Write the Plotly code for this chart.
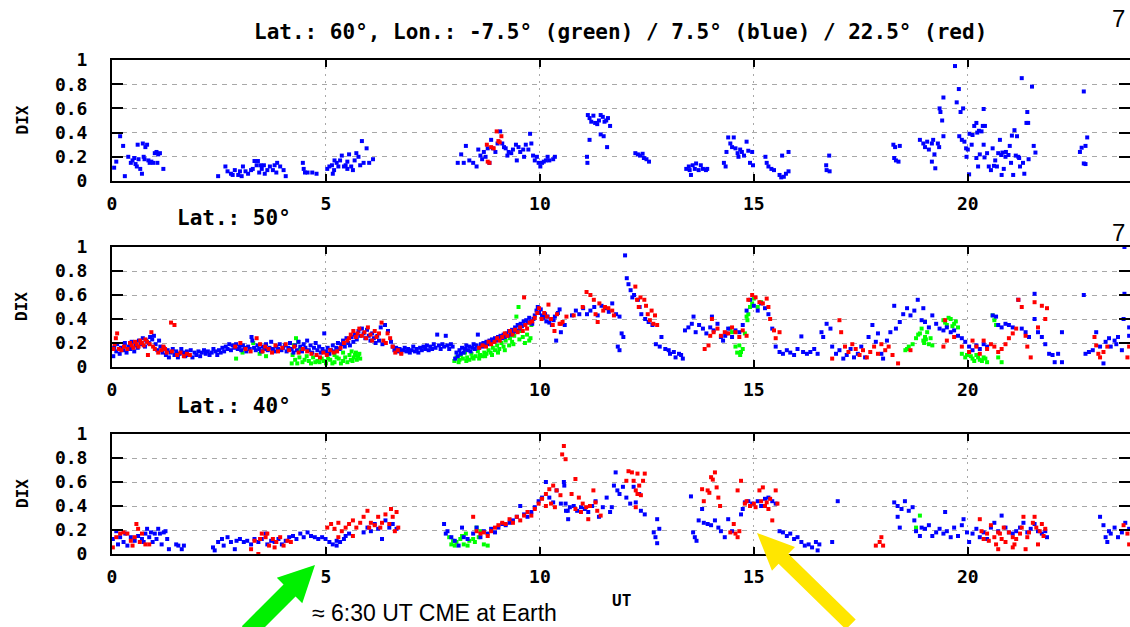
import math
import plotly.graph_objects as go

# ---------------- data (UT hours, DIX) ----------------
X_TICKS = [0, 5, 10, 15, 20]
X_TICK_TEXT = ["0", "5", "10", "15", "20"]
Y_TICKS = [0, 0.2, 0.4, 0.6, 0.8, 1]
Y_TICK_TEXT = ["0", "0.2", "0.4", "0.6", "0.8", "1"]

TITLE_TOP = "Lat.: 60°, Lon.: -7.5° (green) / 7.5° (blue) / 22.5° (red)"
PANEL_LABELS = ["Lat.: 50°", "Lat.: 40°"]
Y_TITLE = "DIX"
X_TITLE = "UT"
NOTE = "≈ 6:30 UT CME at Earth"

# ---- Lat 60 ----
P1_BLUE = [
    (0.05, 0.11), (0.10, 0.16), (0.19, 0.37), (0.26, 0.29), (0.30, 0.04), (0.38, 0.20), (0.44, 0.15),
    (0.48, 0.17), (0.52, 0.19), (0.55, 0.14), (0.58, 0.12), (0.62, 0.18), (0.66, 0.10), (0.70, 0.06),
    (0.60, 0.30), (0.72, 0.31), (0.78, 0.28), (0.82, 0.30), (0.85, 0.17), (0.88, 0.15), (0.92, 0.16),
    (0.96, 0.15), (1.00, 0.23), (1.04, 0.24), (1.08, 0.22), (1.12, 0.23), (1.06, 0.15), (1.20, 0.10),
    (0.74, 0.20), (0.76, 0.18),
    (2.48, 0.04), (2.65, 0.12), (2.70, 0.08), (2.78, 0.06), (2.87, 0.09), (2.95, 0.05), (2.99, 0.08),
    (3.06, 0.12), (3.12, 0.08), (3.18, 0.06), (3.25, 0.09), (3.33, 0.165), (3.38, 0.13), (3.44, 0.07),
    (3.50, 0.10), (3.57, 0.06), (3.63, 0.09), (3.69, 0.12), (3.76, 0.09), (3.80, 0.13), (3.86, 0.15),
    (3.93, 0.12), (4.01, 0.09), (4.06, 0.04), (3.47, 0.13), (3.29, 0.10), (2.82, 0.05), (3.03, 0.04),
    (3.55, 0.13), (3.84, 0.07), (3.41, 0.165),
    (4.46, 0.15), (4.51, 0.07), (4.57, 0.07), (4.68, 0.07), (4.78, 0.06), (4.48, 0.10), (5.03, 0.10),
    (5.08, 0.12), (5.14, 0.13), (5.19, 0.09), (5.25, 0.15), (5.29, 0.12), (5.33, 0.17), (5.37, 0.21),
    (5.42, 0.12), (5.46, 0.13), (5.50, 0.16), (5.54, 0.22), (5.59, 0.12), (5.63, 0.09), (5.67, 0.17),
    (5.71, 0.23), (5.76, 0.20), (5.80, 0.13), (5.84, 0.33), (5.88, 0.15), (5.95, 0.27), (6.01, 0.15),
    (6.10, 0.18), (5.20, 0.17), (5.50, 0.10), (5.16, 0.06),
    (8.08, 0.15), (8.16, 0.22), (8.27, 0.29), (8.22, 0.15), (8.35, 0.17), (8.44, 0.15), (8.52, 0.12),
    (8.56, 0.26), (8.61, 0.21), (8.65, 0.18), (8.69, 0.24), (8.73, 0.20), (8.78, 0.27), (8.86, 0.34),
    (8.90, 0.27), (8.96, 0.24), (9.01, 0.31), (9.07, 0.41), (9.12, 0.31), (9.16, 0.28), (9.20, 0.27),
    (9.27, 0.24), (9.33, 0.23), (9.37, 0.26), (9.44, 0.30), (9.50, 0.28), (9.54, 0.24), (9.61, 0.26),
    (9.67, 0.30), (9.73, 0.26), (9.77, 0.39), (9.80, 0.31), (9.84, 0.21), (9.88, 0.17), (9.93, 0.20),
    (9.97, 0.15), (10.01, 0.12), (10.05, 0.15), (10.09, 0.16), (10.14, 0.17), (10.18, 0.20),
    (10.22, 0.17), (10.31, 0.18), (10.35, 0.20), (9.63, 0.20), (9.46, 0.17), (9.24, 0.21), (8.82, 0.15),
    (11.12, 0.545), (11.16, 0.52), (11.20, 0.49), (11.25, 0.54), (11.29, 0.48), (11.34, 0.47),
    (11.38, 0.50), (11.42, 0.545), (11.47, 0.53), (11.51, 0.49), (11.55, 0.50), (11.64, 0.455),
    (11.59, 0.52), (11.16, 0.34), (11.42, 0.385), (11.49, 0.37), (11.57, 0.28), (11.10, 0.20),
    (11.11, 0.15),
    (12.23, 0.23), (12.29, 0.22), (12.34, 0.21), (12.40, 0.225), (12.43, 0.19), (12.49, 0.18),
    (12.55, 0.16),
    (13.42, 0.10), (13.48, 0.12), (13.53, 0.05), (13.57, 0.13), (13.62, 0.10), (13.65, 0.145),
    (13.71, 0.09), (13.76, 0.13), (13.81, 0.10), (13.88, 0.09), (13.91, 0.10), (13.50, 0.09),
    (14.30, 0.15), (14.34, 0.12), (14.36, 0.24), (14.40, 0.36), (14.45, 0.31), (14.49, 0.28),
    (14.53, 0.36), (14.57, 0.27), (14.62, 0.23), (14.64, 0.20), (14.68, 0.26), (14.72, 0.24),
    (14.77, 0.21), (14.83, 0.325), (14.87, 0.25), (14.91, 0.15), (14.96, 0.24), (14.98, 0.13),
    (15.27, 0.20), (15.30, 0.15), (15.34, 0.12), (15.41, 0.10), (15.47, 0.09), (15.60, 0.05),
    (15.64, 0.03), (15.70, 0.035), (15.75, 0.06), (15.81, 0.08), (15.66, 0.21), (15.81, 0.24),
    (16.69, 0.13), (16.70, 0.09), (16.77, 0.08), (16.76, 0.21),
    (18.26, 0.30), (18.30, 0.28), (18.41, 0.29), (18.28, 0.19), (18.32, 0.17), (18.38, 0.16),
    (18.88, 0.34), (18.96, 0.31), (19.00, 0.28), (19.05, 0.325), (19.09, 0.26), (19.16, 0.31),
    (19.19, 0.34), (19.22, 0.22), (19.16, 0.16), (19.24, 0.105), (19.30, 0.31), (19.33, 0.28),
    (19.34, 0.60), (19.36, 0.57), (19.40, 0.50), (19.43, 0.69), (19.43, 0.37), (19.70, 0.95),
    (19.79, 0.76), (19.74, 0.65), (19.83, 0.57), (19.89, 0.60), (19.80, 0.37), (19.86, 0.34),
    (19.92, 0.325), (19.96, 0.27), (20.00, 0.26), (19.97, 0.20), (20.03, 0.055), (20.04, 0.39),
    (20.09, 0.30), (20.11, 0.38), (20.15, 0.455), (20.20, 0.48), (20.22, 0.40), (20.26, 0.415),
    (20.28, 0.22), (20.32, 0.41), (20.35, 0.455), (20.37, 0.595), (20.37, 0.30), (20.39, 0.195),
    (20.40, 0.455), (20.20, 0.19), (20.24, 0.12), (20.45, 0.23), (20.49, 0.12), (20.54, 0.09),
    (20.58, 0.27), (20.61, 0.125), (20.64, 0.17), (20.68, 0.12), (20.71, 0.23), (20.75, 0.34),
    (20.78, 0.215), (20.79, 0.05), (20.81, 0.235), (20.84, 0.10), (20.88, 0.20), (20.89, 0.24),
    (20.95, 0.215), (20.98, 0.29), (21.01, 0.15), (21.03, 0.375), (21.06, 0.05), (21.09, 0.42),
    (21.12, 0.21), (21.15, 0.37), (21.18, 0.20), (21.20, 0.19), (21.22, 0.12), (21.26, 0.85),
    (21.29, 0.15), (21.32, 0.06), (21.37, 0.48), (21.41, 0.48), (21.39, 0.57), (21.42, 0.18),
    (21.50, 0.78), (21.54, 0.29), (21.58, 0.235),
    (22.62, 0.24), (22.66, 0.275), (22.75, 0.29), (22.79, 0.36), (22.71, 0.74), (22.71, 0.145),
    (22.75, 0.14),
]
P1_RED = [
    (8.76, 0.30), (8.78, 0.16), (8.86, 0.28), (8.92, 0.27), (8.99, 0.41), (9.03, 0.33), (9.10, 0.37),
    (8.82, 0.15), (9.06, 0.32),
]
P1_GREEN = []

# ---- Lat 50 ----
P2_BLUE = [
    (0.03, 0.09), (0.05, 0.16), (0.10, 0.13), (0.12, 0.19), (0.18, 0.11), (0.21, 0.16), (0.27, 0.14),
    (0.30, 0.20), (0.34, 0.12), (0.38, 0.17), (0.43, 0.15), (0.46, 0.21), (0.52, 0.13), (0.55, 0.18),
    (0.60, 0.16), (0.63, 0.22), (0.68, 0.19), (0.72, 0.24), (0.77, 0.17), (0.80, 0.22), (0.86, 0.20),
    (0.89, 0.25), (0.94, 0.23), (0.98, 0.26), (1.02, 0.19), (1.06, 0.14), (1.10, 0.22), (1.13, 0.17),
    (1.18, 0.12), (1.21, 0.16), (1.26, 0.10), (1.30, 0.14), (1.33, 0.08), (1.37, 0.12), (1.42, 0.15),
    (1.46, 0.10), (1.50, 0.13), (1.54, 0.08), (1.58, 0.11), (1.62, 0.15), (1.67, 0.12), (1.71, 0.09),
    (1.75, 0.13), (1.80, 0.10), (1.84, 0.14), (1.88, 0.08), (1.93, 0.12), (1.97, 0.10), (2.02, 0.13),
    (2.06, 0.09), (2.10, 0.12), (2.15, 0.14), (2.19, 0.11), (2.24, 0.13), (2.28, 0.10), (2.33, 0.12),
    (2.37, 0.15), (2.42, 0.13), (2.46, 0.10),
    (2.50, 0.14), (2.54, 0.12), (2.58, 0.16), (2.62, 0.13), (2.66, 0.17), (2.70, 0.15), (2.74, 0.19),
    (2.78, 0.14), (2.82, 0.18), (2.86, 0.16), (2.90, 0.19), (2.94, 0.15), (2.98, 0.17), (3.02, 0.14),
    (3.06, 0.18), (3.10, 0.16), (3.14, 0.13), (3.18, 0.17), (3.22, 0.15), (3.26, 0.25), (3.28, 0.22),
    (3.32, 0.16), (3.36, 0.14), (3.40, 0.18), (3.44, 0.15), (3.48, 0.13), (3.52, 0.17), (3.56, 0.15),
    (3.60, 0.19), (3.64, 0.14), (3.68, 0.16), (3.72, 0.21), (3.76, 0.15), (3.80, 0.13), (3.84, 0.17),
    (3.88, 0.15), (3.92, 0.19), (3.96, 0.14), (4.00, 0.16), (4.04, 0.18), (4.08, 0.13), (4.12, 0.16),
    (4.16, 0.20), (4.20, 0.15), (4.24, 0.12), (4.28, 0.18), (4.32, 0.14), (4.36, 0.21), (4.40, 0.17),
    (4.44, 0.13), (4.48, 0.19), (4.52, 0.16), (4.56, 0.22), (4.60, 0.14), (4.64, 0.18), (4.68, 0.12),
    (4.72, 0.16), (4.76, 0.20), (4.80, 0.14), (4.84, 0.17), (4.88, 0.12), (4.92, 0.15), (4.96, 0.28),
    (5.00, 0.13),
    (5.04, 0.16), (5.08, 0.11), (5.12, 0.14), (5.16, 0.18), (5.20, 0.13), (5.24, 0.16), (5.28, 0.20),
    (5.32, 0.15), (5.36, 0.19), (5.40, 0.22), (5.44, 0.17), (5.48, 0.24), (5.52, 0.20), (5.56, 0.18),
    (5.60, 0.25), (5.64, 0.21), (5.68, 0.27), (5.72, 0.23), (5.76, 0.30), (5.80, 0.26), (5.84, 0.32),
    (5.88, 0.28), (5.92, 0.24), (5.96, 0.31), (6.00, 0.26), (6.04, 0.22), (6.08, 0.28), (6.12, 0.24),
    (6.16, 0.20), (6.20, 0.26), (6.24, 0.22), (6.28, 0.33), (6.32, 0.19), (6.38, 0.35), (6.45, 0.30),
    (6.52, 0.21),
    (6.56, 0.17), (6.60, 0.14), (6.64, 0.16), (6.68, 0.13), (6.72, 0.15), (6.76, 0.12), (6.80, 0.14),
    (6.84, 0.16), (6.88, 0.13), (6.92, 0.15), (6.96, 0.12), (7.00, 0.14), (7.04, 0.17), (7.08, 0.13),
    (7.12, 0.15), (7.16, 0.12), (7.20, 0.16), (7.24, 0.14), (7.28, 0.17), (7.32, 0.15), (7.36, 0.18),
    (7.40, 0.14), (7.44, 0.17), (7.48, 0.15), (7.52, 0.19), (7.56, 0.16), (7.60, 0.27), (7.64, 0.18),
    (7.68, 0.15), (7.72, 0.19), (7.76, 0.17), (7.80, 0.26), (7.84, 0.18), (7.88, 0.15), (7.92, 0.19),
    (7.96, 0.17),
    (8.02, 0.07), (8.05, 0.12), (8.08, 0.09), (8.12, 0.14), (8.15, 0.11), (8.18, 0.16), (8.22, 0.12),
    (8.25, 0.15), (8.28, 0.18), (8.32, 0.14), (8.35, 0.17), (8.38, 0.13), (8.42, 0.16), (8.45, 0.19),
    (8.48, 0.15), (8.52, 0.18), (8.55, 0.27), (8.58, 0.16), (8.62, 0.19), (8.65, 0.17), (8.68, 0.20),
    (8.72, 0.18), (8.75, 0.21), (8.78, 0.19), (8.82, 0.22), (8.85, 0.20), (8.88, 0.23), (8.92, 0.21),
    (8.95, 0.24), (8.98, 0.22), (9.02, 0.25), (9.05, 0.23), (9.08, 0.26), (9.12, 0.24), (9.15, 0.27),
    (9.18, 0.25), (9.22, 0.28), (9.25, 0.26), (9.28, 0.30), (9.32, 0.27), (9.35, 0.31), (9.38, 0.29),
    (9.42, 0.33), (9.45, 0.30), (9.48, 0.35), (9.52, 0.32), (9.55, 0.36), (9.58, 0.34), (9.62, 0.38),
    (9.65, 0.35), (9.68, 0.39), (9.72, 0.37), (9.75, 0.41), (9.78, 0.38), (9.82, 0.36), (9.85, 0.40),
    (9.88, 0.43), (9.92, 0.47), (9.95, 0.50), (9.98, 0.45), (10.02, 0.48), (10.05, 0.43),
    (10.08, 0.41), (10.12, 0.44), (10.15, 0.38), (10.18, 0.42), (10.22, 0.37), (10.25, 0.40),
    (10.28, 0.35), (10.32, 0.39), (10.35, 0.42), (10.38, 0.22), (10.42, 0.45), (10.46, 0.48),
    (10.49, 0.29), (10.58, 0.35), (10.75, 0.43), (10.84, 0.47), (10.92, 0.44), (11.01, 0.49),
    (11.10, 0.44), (11.18, 0.47), (11.27, 0.50), (11.35, 0.43), (11.44, 0.51), (11.52, 0.49),
    (11.61, 0.46), (11.69, 0.53), (11.78, 0.44), (11.86, 0.42), (11.91, 0.28), (11.95, 0.25),
    (11.82, 0.17), (11.86, 0.14), (11.99, 0.93), (12.03, 0.74), (12.07, 0.69), (12.12, 0.64),
    (12.16, 0.58), (12.20, 0.60), (12.29, 0.56), (12.33, 0.50), (12.37, 0.44), (12.46, 0.40),
    (12.54, 0.375), (12.63, 0.35), (12.71, 0.19), (12.80, 0.17), (12.84, 0.25), (12.93, 0.15),
    (13.01, 0.14), (13.04, 0.11), (13.13, 0.125), (13.17, 0.08), (13.25, 0.11), (13.30, 0.10),
    (13.34, 0.07), (13.39, 0.305), (13.47, 0.33), (13.55, 0.36), (13.59, 0.42), (13.64, 0.29),
    (13.72, 0.35), (13.81, 0.32), (13.89, 0.28), (13.98, 0.33), (14.02, 0.42), (14.06, 0.305),
    (14.15, 0.36), (14.23, 0.25), (14.28, 0.22), (14.33, 0.26), (14.36, 0.28), (14.40, 0.32),
    (14.49, 0.25), (14.57, 0.305), (14.66, 0.29), (14.74, 0.35), (14.83, 0.47), (14.91, 0.56),
    (15.00, 0.51), (15.09, 0.47), (15.17, 0.53), (15.26, 0.49), (15.34, 0.44), (15.43, 0.32),
    (15.51, 0.17), (15.60, 0.125), (15.68, 0.11), (15.77, 0.14), (15.85, 0.12), (15.94, 0.10),
    (16.02, 0.15), (16.11, 0.255), (16.15, 0.125), (16.24, 0.11), (16.32, 0.125), (16.41, 0.15),
    (16.49, 0.11), (16.58, 0.29), (16.62, 0.25), (16.70, 0.36), (16.79, 0.32), (16.83, 0.17),
    (16.92, 0.11), (17.00, 0.14), (17.09, 0.07), (17.17, 0.10), (17.26, 0.15), (17.34, 0.08),
    (17.43, 0.11), (17.51, 0.17), (17.60, 0.08), (17.68, 0.25), (17.77, 0.35), (17.85, 0.21),
    (17.90, 0.28), (17.98, 0.11), (18.02, 0.07), (18.11, 0.22), (18.19, 0.29), (18.28, 0.51),
    (18.32, 0.32), (18.41, 0.375), (18.49, 0.44), (18.58, 0.49), (18.66, 0.43), (18.75, 0.47),
    (18.83, 0.56), (18.92, 0.39), (18.96, 0.49), (19.00, 0.375), (19.09, 0.33), (19.17, 0.43),
    (19.26, 0.36), (19.34, 0.32), (19.43, 0.305), (19.51, 0.33), (19.60, 0.29), (19.68, 0.305),
    (19.77, 0.26), (19.86, 0.24), (19.94, 0.21), (20.03, 0.17), (20.11, 0.14), (20.20, 0.18),
    (20.28, 0.15), (20.37, 0.19), (20.45, 0.17), (20.58, 0.43), (20.66, 0.42), (20.71, 0.35),
    (20.79, 0.33), (20.88, 0.36), (20.96, 0.35), (21.05, 0.33), (21.18, 0.56), (21.26, 0.32),
    (21.35, 0.29), (21.43, 0.25), (21.56, 0.61), (21.56, 0.40), (21.64, 0.29), (21.73, 0.25),
    (21.81, 0.19), (21.90, 0.11), (21.98, 0.10), (22.03, 0.04), (22.11, 0.11), (22.20, 0.04),
    (22.20, 0.29), (22.71, 0.60), (22.75, 0.11), (22.83, 0.125), (22.92, 0.14), (23.00, 0.29),
    (23.09, 0.17), (23.17, 0.03), (23.22, 0.21), (23.30, 0.24), (23.34, 0.17), (23.43, 0.22),
    (23.47, 0.19), (23.51, 0.25), (23.60, 0.14), (23.64, 0.40), (23.66, 1.0), (23.66, 0.61),
    (23.77, 0.33), (23.77, 0.26),
]
P2_RED = [
    (0.03, 0.15), (0.06, 0.19), (0.09, 0.24), (0.12, 0.28), (0.16, 0.15), (0.22, 0.14), (0.28, 0.17),
    (0.36, 0.15), (0.42, 0.20), (0.46, 0.18), (0.50, 0.16), (0.54, 0.21), (0.58, 0.19), (0.62, 0.17),
    (0.66, 0.22), (0.70, 0.20), (0.74, 0.18), (0.78, 0.23), (0.82, 0.21), (0.84, 0.10), (0.88, 0.19),
    (0.92, 0.29), (0.96, 0.17), (1.00, 0.15), (1.08, 0.12), (1.15, 0.14), (1.20, 0.17), (1.24, 0.15),
    (1.28, 0.12), (1.38, 0.37), (1.46, 0.35), (1.40, 0.13), (1.52, 0.10), (1.60, 0.12), (1.68, 0.09),
    (1.75, 0.11), (1.82, 0.10),
    (2.88, 0.17), (3.00, 0.20), (3.12, 0.15), (3.24, 0.13), (3.38, 0.24), (3.46, 0.19), (3.52, 0.13),
    (3.58, 0.17), (3.66, 0.15), (3.74, 0.12), (3.82, 0.18), (3.88, 0.13), (3.98, 0.16), (4.06, 0.19),
    (4.14, 0.14), (4.26, 0.17), (4.36, 0.12), (4.46, 0.15), (4.56, 0.13), (4.66, 0.11),
    (4.78, 0.10), (4.86, 0.08), (4.94, 0.12), (5.02, 0.10), (5.10, 0.14), (5.18, 0.12), (5.26, 0.13),
    (5.34, 0.16), (5.42, 0.20), (5.50, 0.22), (5.54, 0.24), (5.58, 0.27), (5.64, 0.30), (5.70, 0.25),
    (5.74, 0.28), (5.78, 0.32), (5.84, 0.26), (5.90, 0.29), (5.94, 0.24), (5.98, 0.33), (6.04, 0.27),
    (6.08, 0.22), (6.14, 0.30), (6.18, 0.25), (6.24, 0.28), (6.30, 0.37), (6.34, 0.22), (6.40, 0.20),
    (6.44, 0.28), (6.50, 0.24), (6.56, 0.17), (6.62, 0.12), (6.68, 0.14), (6.76, 0.11),
    (8.58, 0.16), (8.66, 0.18), (8.74, 0.17), (8.80, 0.21), (8.86, 0.19), (8.94, 0.21), (9.00, 0.24),
    (9.06, 0.22), (9.12, 0.25), (9.18, 0.28), (9.24, 0.26), (9.30, 0.30), (9.36, 0.27), (9.42, 0.31),
    (9.48, 0.29), (9.54, 0.33), (9.63, 0.58), (9.60, 0.30), (9.66, 0.35), (9.70, 0.32), (9.76, 0.37),
    (9.82, 0.38), (9.88, 0.41), (9.94, 0.45), (9.98, 0.49), (10.04, 0.40), (10.10, 0.45),
    (10.16, 0.42), (10.20, 0.52), (10.26, 0.40), (10.30, 0.35), (10.34, 0.30), (10.40, 0.44),
    (10.46, 0.36),
    (10.49, 0.36), (10.53, 0.375), (10.62, 0.42), (10.79, 0.43), (11.00, 0.50), (11.09, 0.625),
    (11.18, 0.60), (11.26, 0.56), (11.30, 0.44), (11.35, 0.375), (11.39, 0.53), (11.48, 0.47),
    (11.52, 0.50), (11.60, 0.49), (11.69, 0.47), (11.73, 0.43), (12.23, 0.67), (12.27, 0.56),
    (12.31, 0.50), (12.35, 0.58), (12.44, 0.56), (12.48, 0.51), (12.52, 0.44), (12.57, 0.39),
    (12.61, 0.47), (12.65, 0.36), (12.69, 0.43), (12.74, 0.35), (13.85, 0.15), (13.94, 0.18),
    (13.98, 0.26), (14.02, 0.40), (14.06, 0.29), (14.15, 0.32), (14.23, 0.26), (14.32, 0.29),
    (14.40, 0.28), (14.49, 0.33), (14.57, 0.29), (14.66, 0.25), (14.74, 0.305), (14.83, 0.26),
    (14.87, 0.56), (14.96, 0.60), (15.04, 0.58), (15.13, 0.54), (15.21, 0.53), (15.30, 0.57),
    (15.34, 0.50), (15.38, 0.40), (15.47, 0.305), (15.51, 0.24), (15.60, 0.29), (16.83, 0.07),
    (17.00, 0.39), (17.04, 0.29), (17.13, 0.17), (17.21, 0.125), (17.30, 0.19), (17.38, 0.15),
    (17.47, 0.10), (17.55, 0.14), (17.64, 0.08), (17.72, 0.125), (17.81, 0.17), (17.90, 0.11),
    (17.98, 0.19), (18.07, 0.14), (18.15, 0.17), (18.24, 0.10), (18.37, 0.03), (18.66, 0.14),
    (19.43, 0.17), (19.47, 0.39), (19.51, 0.22), (19.68, 0.25), (19.86, 0.17), (20.03, 0.125),
    (20.11, 0.22), (20.20, 0.17), (20.28, 0.11), (20.37, 0.22), (20.45, 0.15), (20.54, 0.19),
    (20.62, 0.17), (20.71, 0.125), (20.79, 0.15), (20.88, 0.19), (20.96, 0.24), (21.05, 0.28),
    (21.13, 0.32), (21.18, 0.56), (21.26, 0.50), (21.35, 0.26), (21.39, 0.17), (21.47, 0.08),
    (21.56, 0.54), (21.64, 0.33), (21.73, 0.51), (21.81, 0.40), (21.85, 0.49), (22.96, 0.25),
    (23.00, 0.18), (23.05, 0.11), (23.09, 0.08), (23.17, 0.125), (23.26, 0.17), (23.73, 0.08),
    (23.77, 0.17),
]
P2_GREEN = [
    (2.90, 0.07), (3.05, 0.12), (3.30, 0.20), (3.45, 0.11), (3.60, 0.09), (3.50, 0.13),
    (4.20, 0.03), (4.25, 0.18), (4.30, 0.24), (4.35, 0.21), (4.40, 0.15), (4.50, 0.06), (4.60, 0.05),
    (4.70, 0.08), (4.80, 0.05), (4.90, 0.07), (4.28, 0.06), (4.45, 0.04), (4.65, 0.03), (4.85, 0.04),
    (4.22, 0.10), (4.33, 0.03), (4.38, 0.08), (4.55, 0.09), (4.75, 0.04), (4.95, 0.05),
    (5.00, 0.03), (5.10, 0.06), (5.20, 0.04), (5.30, 0.07), (5.40, 0.05), (5.50, 0.04), (5.55, 0.10),
    (5.60, 0.13), (5.65, 0.08), (5.70, 0.12), (5.75, 0.09), (5.80, 0.07), (5.20, 0.10), (5.40, 0.12),
    (5.62, 0.05), (5.72, 0.06), (5.05, 0.07), (5.15, 0.03), (5.25, 0.08), (5.35, 0.03), (5.45, 0.08),
    (5.58, 0.06), (5.68, 0.10), (5.78, 0.11),
    (8.00, 0.05), (8.05, 0.08), (8.10, 0.04), (8.15, 0.10), (8.20, 0.07), (8.25, 0.12), (8.30, 0.08),
    (8.35, 0.06), (8.40, 0.11), (8.50, 0.09), (8.55, 0.13), (8.60, 0.10), (8.70, 0.12), (8.80, 0.14),
    (8.90, 0.16), (9.00, 0.18), (9.10, 0.20), (9.15, 0.17), (9.20, 0.22), (9.30, 0.24), (9.35, 0.21),
    (9.40, 0.26), (9.45, 0.42), (9.50, 0.50), (9.55, 0.30), (9.60, 0.25), (9.70, 0.27), (9.75, 0.22),
    (9.80, 0.35), (8.45, 0.07), (8.65, 0.09), (8.75, 0.11), (8.85, 0.12), (8.95, 0.14), (9.05, 0.15),
    (8.12, 0.06), (8.28, 0.05), (8.42, 0.08), (8.58, 0.07), (8.72, 0.09), (8.88, 0.10), (9.02, 0.12),
    (9.18, 0.14), (9.28, 0.18), (9.38, 0.19), (9.52, 0.23), (9.65, 0.20), (9.78, 0.24),
    (14.45, 0.32), (14.49, 0.29), (14.57, 0.17), (14.66, 0.18), (14.70, 0.125),
    (14.74, 0.15), (14.79, 0.28), (14.83, 0.42), (14.87, 0.44), (14.91, 0.50), (14.96, 0.53),
    (15.00, 0.57), (15.09, 0.50), (15.17, 0.54), (14.61, 0.12), (14.68, 0.10), (14.85, 0.39),
    (18.54, 0.14), (18.62, 0.17), (18.71, 0.19), (18.79, 0.24), (18.88, 0.28), (18.92, 0.32),
    (18.96, 0.22), (19.00, 0.25), (19.05, 0.29), (19.09, 0.19), (19.13, 0.24), (19.17, 0.18),
    (18.58, 0.15), (18.84, 0.27), (18.98, 0.20), (19.02, 0.23),
    (19.43, 0.39), (19.51, 0.35), (19.60, 0.40), (19.68, 0.36), (19.77, 0.33), (19.86, 0.11),
    (19.47, 0.37), (19.55, 0.41), (19.64, 0.34), (19.72, 0.38),
    (19.94, 0.08), (20.03, 0.125), (20.11, 0.07), (20.20, 0.10), (20.28, 0.06), (20.37, 0.08),
    (20.45, 0.04), (20.58, 0.43), (20.62, 0.39), (20.66, 0.35), (20.71, 0.08), (20.79, 0.04),
    (19.98, 0.10), (20.07, 0.09), (20.15, 0.05), (20.24, 0.08), (20.33, 0.05), (20.41, 0.07),
]

# ---- Lat 40 ----
P3_BLUE = [
    (0.02, 0.125), (0.10, 0.19), (0.14, 0.08), (0.19, 0.14), (0.27, 0.10), (0.31, 0.17), (0.36, 0.07),
    (0.44, 0.14), (0.53, 0.11), (0.61, 0.15), (0.70, 0.125), (0.78, 0.17), (0.82, 0.21), (0.87, 0.14),
    (0.95, 0.10), (1.00, 0.17), (1.04, 0.125), (1.12, 0.17), (1.16, 0.08), (1.21, 0.18), (1.29, 0.125),
    (1.33, 0.04), (1.50, 0.08), (1.55, 0.07), (1.63, 0.04), (1.68, 0.07), (0.74, 0.10), (0.91, 0.18),
    (1.08, 0.21), (1.25, 0.19),
    (2.36, 0.055), (2.40, 0.03), (2.48, 0.10), (2.57, 0.125), (2.61, 0.07), (2.70, 0.14), (2.78, 0.10),
    (2.87, 0.04), (2.91, 0.11), (2.99, 0.125), (3.08, 0.10), (3.16, 0.11), (3.25, 0.08), (3.33, 0.125),
    (3.42, 0.10), (3.50, 0.125), (3.59, 0.17), (3.63, 0.08), (3.72, 0.11), (3.80, 0.10), (3.89, 0.125),
    (3.97, 0.08), (4.06, 0.11), (4.14, 0.14), (4.23, 0.15), (4.31, 0.125), (4.40, 0.17), (4.48, 0.14),
    (4.57, 0.18), (4.65, 0.15), (4.74, 0.14), (4.82, 0.125), (4.91, 0.14), (4.99, 0.125), (5.08, 0.10),
    (5.16, 0.08), (5.25, 0.11), (5.33, 0.10), (5.42, 0.125), (5.46, 0.15), (5.54, 0.17), (5.25, 0.07),
    (5.97, 0.22), (6.05, 0.19), (6.14, 0.25), (6.22, 0.21), (6.31, 0.125), (6.39, 0.28), (6.48, 0.22),
    (6.56, 0.25), (6.65, 0.21), (5.88, 0.18),
    (7.76, 0.25), (7.80, 0.17), (7.84, 0.19), (7.93, 0.14), (8.01, 0.11), (8.10, 0.07), (8.18, 0.22),
    (8.22, 0.14), (8.31, 0.125), (8.44, 0.17), (8.52, 0.22), (8.61, 0.14), (8.69, 0.19), (8.78, 0.17),
    (8.86, 0.21), (8.95, 0.18), (9.03, 0.22), (9.12, 0.25), (9.20, 0.24), (9.29, 0.26), (9.37, 0.28),
    (9.46, 0.31), (9.54, 0.40), (9.63, 0.33), (9.71, 0.31), (9.80, 0.35), (9.88, 0.39), (9.97, 0.44),
    (10.05, 0.47), (10.14, 0.60), (10.22, 0.47), (10.31, 0.43), (10.39, 0.53), (10.56, 0.60),
    (10.60, 0.42), (10.65, 0.36),
    (10.49, 0.42), (10.57, 0.57), (10.61, 0.36), (10.66, 0.29), (10.70, 0.39), (10.79, 0.40),
    (10.87, 0.36), (10.96, 0.39), (11.05, 0.375), (11.13, 0.35), (11.22, 0.40), (11.30, 0.44),
    (11.38, 0.31), (11.47, 0.39), (11.56, 0.47), (11.64, 0.35), (11.68, 0.39), (11.73, 0.57),
    (11.77, 0.68), (11.81, 0.53), (11.86, 0.50), (11.94, 0.56), (12.02, 0.47), (12.11, 0.42),
    (12.19, 0.56), (12.24, 0.43), (12.32, 0.50), (12.36, 0.36), (12.45, 0.33), (12.74, 0.29),
    (12.66, 0.18), (12.70, 0.14), (12.74, 0.09), (12.79, 0.21), (13.53, 0.48), (13.58, 0.18),
    (13.62, 0.14), (13.66, 0.11), (13.71, 0.28), (13.79, 0.375), (13.83, 0.26), (13.92, 0.25),
    (14.00, 0.24), (14.09, 0.28), (14.17, 0.22), (14.23, 0.19), (14.32, 0.14), (14.40, 0.29),
    (14.49, 0.19), (14.70, 0.33), (14.74, 0.375), (14.79, 0.43), (14.87, 0.44), (14.96, 0.42),
    (15.09, 0.44), (15.17, 0.40), (15.26, 0.46), (15.34, 0.47), (15.43, 0.44), (15.51, 0.42),
    (15.60, 0.19), (15.68, 0.18), (15.77, 0.15), (15.85, 0.17), (15.94, 0.125), (16.02, 0.14),
    (16.11, 0.10), (16.19, 0.07), (16.28, 0.08), (16.36, 0.055), (16.45, 0.10), (16.49, 0.03),
    (16.53, 0.08), (16.83, 0.10), (16.96, 0.44),
    (18.28, 0.43), (18.36, 0.40), (18.45, 0.375), (18.53, 0.44), (18.62, 0.36), (18.71, 0.39),
    (18.36, 0.31), (18.41, 0.22), (18.75, 0.28), (18.79, 0.19), (18.88, 0.15), (18.92, 0.22),
    (19.00, 0.21), (19.09, 0.24), (19.17, 0.15), (19.26, 0.18), (19.34, 0.21), (19.43, 0.17),
    (19.47, 0.35), (19.51, 0.19), (19.60, 0.14), (19.68, 0.22), (19.77, 0.15), (19.86, 0.24),
    (19.90, 0.29), (19.98, 0.18), (20.03, 0.10), (20.11, 0.17), (20.20, 0.21), (20.28, 0.14),
    (20.37, 0.18), (20.45, 0.125), (20.54, 0.22), (20.62, 0.26), (20.71, 0.19), (20.79, 0.32),
    (20.88, 0.22), (20.96, 0.18), (21.05, 0.17), (21.13, 0.19), (21.22, 0.22), (21.30, 0.26),
    (21.39, 0.18), (21.47, 0.21), (21.56, 0.25), (21.64, 0.19), (21.73, 0.17), (21.81, 0.19),
    (21.85, 0.14),
    (23.09, 0.31), (23.17, 0.24), (23.22, 0.14), (23.26, 0.10), (23.30, 0.19), (23.34, 0.17),
    (23.43, 0.22), (23.51, 0.14), (23.60, 0.18), (23.68, 0.26), (23.77, 0.21),
]
P3_RED = [
    (0.02, 0.055), (0.10, 0.14), (0.19, 0.17), (0.27, 0.18), (0.36, 0.17), (0.44, 0.11), (0.48, 0.07),
    (0.57, 0.25), (0.61, 0.21), (0.70, 0.17), (0.78, 0.08), (0.87, 0.08), (0.53, 0.14), (0.65, 0.10),
    (3.25, 0.04), (3.33, 0.11), (3.42, 0.00), (3.46, 0.125), (3.50, 0.17), (3.59, 0.14), (3.67, 0.07),
    (3.76, 0.125), (3.84, 0.10), (3.93, 0.14), (4.01, 0.07), (4.10, 0.11), (4.18, 0.10), (3.80, 0.055),
    (3.63, 0.17),
    (5.03, 0.22), (5.12, 0.25), (5.20, 0.21), (5.29, 0.26), (5.37, 0.19), (5.46, 0.22), (5.54, 0.25),
    (5.63, 0.28), (5.71, 0.22), (5.80, 0.26), (5.88, 0.31), (5.97, 0.36), (6.05, 0.26), (6.14, 0.24),
    (6.22, 0.31), (6.31, 0.26), (6.39, 0.33), (6.48, 0.25), (6.56, 0.31), (6.65, 0.35), (6.61, 0.19),
    (6.69, 0.22), (6.52, 0.375), (6.27, 0.22), (6.01, 0.22), (5.29, 0.14), (5.63, 0.15),
    (8.44, 0.31), (8.52, 0.19), (8.61, 0.17), (8.69, 0.18), (8.78, 0.15), (8.86, 0.19), (8.95, 0.22),
    (9.03, 0.24), (9.12, 0.26), (9.20, 0.25), (9.29, 0.29), (9.37, 0.26), (9.46, 0.31), (9.54, 0.28),
    (9.63, 0.32), (9.71, 0.35), (9.80, 0.32), (9.88, 0.375), (9.97, 0.42), (10.05, 0.46), (10.14, 0.50),
    (10.22, 0.54), (10.31, 0.57), (10.39, 0.53), (10.48, 0.49), (10.52, 0.83), (10.56, 0.90),
    (10.60, 0.79), (10.14, 0.40), (10.26, 0.42), (10.35, 0.39),
    (10.74, 0.50), (10.83, 0.625), (10.91, 0.47), (11.00, 0.42), (11.08, 0.39), (11.17, 0.40),
    (11.25, 0.53), (11.30, 0.43), (11.34, 0.36), (11.42, 0.32), (10.83, 0.375), (10.96, 0.35),
    (11.13, 0.29), (12.02, 0.61), (12.07, 0.69), (12.15, 0.68), (12.19, 0.61), (12.24, 0.53),
    (12.28, 0.67), (12.32, 0.57), (12.36, 0.49), (12.41, 0.61), (12.45, 0.67), (12.24, 0.39),
    (12.28, 0.50), (13.79, 0.54), (13.83, 0.44), (13.92, 0.53), (13.96, 0.51), (14.00, 0.64),
    (14.04, 0.62), (14.09, 0.68), (14.13, 0.555), (14.17, 0.47), (14.21, 0.40), (14.45, 0.18),
    (14.53, 0.25), (14.57, 0.17), (14.62, 0.14), (14.66, 0.19), (14.62, 0.53), (14.70, 0.61),
    (14.79, 0.42), (14.83, 0.44), (14.91, 0.40), (15.00, 0.42), (15.04, 0.39), (15.13, 0.53),
    (15.17, 0.44), (15.21, 0.555), (15.26, 0.40), (15.30, 0.43), (15.34, 0.375), (15.38, 0.46),
    (15.43, 0.28), (15.51, 0.53), (15.55, 0.42),
    (17.85, 0.07), (17.94, 0.10), (17.98, 0.14), (18.02, 0.07),
    (20.28, 0.29), (20.32, 0.19), (20.37, 0.125), (20.45, 0.17), (20.49, 0.11), (20.54, 0.24),
    (20.62, 0.14), (20.66, 0.08), (20.71, 0.18), (20.79, 0.125), (20.84, 0.22), (20.88, 0.10),
    (20.96, 0.18), (21.05, 0.14), (21.09, 0.08), (21.13, 0.125), (21.22, 0.17), (21.26, 0.22),
    (21.30, 0.31), (21.35, 0.04), (21.39, 0.14), (21.43, 0.18), (21.52, 0.26), (21.56, 0.31),
    (21.60, 0.22), (21.64, 0.08), (21.68, 0.19), (21.73, 0.25), (21.77, 0.15), (21.81, 0.21),
    (20.71, 0.04), (21.05, 0.055), (20.75, 0.17),
    (23.64, 0.24), (23.73, 0.17), (23.77, 0.08),
]
P3_GREEN = [
    (7.88, 0.14), (7.93, 0.08), (7.97, 0.11), (8.05, 0.10), (8.14, 0.125), (8.18, 0.15), (8.27, 0.17),
    (8.35, 0.11), (8.44, 0.125), (8.52, 0.22), (8.61, 0.19), (8.69, 0.08), (8.78, 0.07), (8.01, 0.07),
    (8.22, 0.08), (8.48, 0.10), (8.57, 0.14), (8.31, 0.07),
    (18.88, 0.32), (18.79, 0.22),
]

# ---------------- layout geometry (pixels) ----------------
W, H = 1130, 627
X_MAX = 23.79
PLOT_LEFT = 112
PANELS = [(60, 181), (247, 367), (434, 554)]  # (top, bottom) pixel rows
COLORS = {"green": "#00ff00", "blue": "#0000ff", "red": "#ff0000"}
SERIES = [
    {"green": P1_GREEN, "blue": P1_BLUE, "red": P1_RED},
    {"green": P2_GREEN, "blue": P2_BLUE, "red": P2_RED},
    {"green": P3_GREEN, "blue": P3_BLUE, "red": P3_RED},
]
MONO = "DejaVu Sans Mono"


def fx(px):
    return px / W


def fy(py):
    return 1 - py / H


fig = go.Figure()
for i, series in enumerate(SERIES, start=1):
    for name in ["green", "blue", "red"]:
        pts = series[name]
        if not pts:
            continue
        xs = [p[0] for p in pts]
        ys = [p[1] for p in pts]
        fig.add_trace(go.Scatter(
            x=xs, y=ys, mode="markers",
            marker=dict(symbol="square", size=4, color=COLORS[name], line=dict(width=0)),
            xaxis="x" if i == 1 else f"x{i}", yaxis="y" if i == 1 else f"y{i}",
            showlegend=False, hoverinfo="skip",
        ))

tick_font = dict(family=MONO, size=18, color="black", weight="bold")
layout = dict(
    width=W, height=H, autosize=False,
    margin=dict(l=0, r=0, t=0, b=0, autoexpand=False),
    paper_bgcolor="white", plot_bgcolor="white",
    showlegend=False,
)
for i, (top, bot) in enumerate(PANELS, start=1):
    xk = "xaxis" if i == 1 else f"xaxis{i}"
    yk = "yaxis" if i == 1 else f"yaxis{i}"
    ya = "y" if i == 1 else f"y{i}"
    xa = "x" if i == 1 else f"x{i}"
    layout[xk] = dict(
        domain=[fx(PLOT_LEFT), 1.0], range=[0, X_MAX], anchor=ya, automargin=False,
        tickmode="array", tickvals=X_TICKS, ticktext=X_TICK_TEXT,
        ticks="inside", ticklen=7, tickwidth=1.5, tickcolor="black",
        showline=True, linecolor="black", linewidth=2, mirror="ticks",
        showgrid=True, gridcolor="#a8a8a8", gridwidth=1, griddash="2px,5px",
        zeroline=False, tickfont=tick_font, ticklabelstandoff=5,
    )
    layout[yk] = dict(
        domain=[fy(bot), fy(top)], range=[0, 1], anchor=xa, automargin=False,
        tickmode="array", tickvals=Y_TICKS, ticktext=Y_TICK_TEXT,
        ticks="inside", ticklen=11, tickwidth=1.5, tickcolor="black",
        showline=True, linecolor="black", linewidth=2, mirror="ticks",
        showgrid=True, gridcolor="#a8a8a8", gridwidth=1, griddash="5px,5px",
        zeroline=False, tickfont=tick_font, ticklabelstandoff=19,
    )

ann = []
title_font = dict(family=MONO, size=21, color="black", weight="bold")
ann.append(dict(text=TITLE_TOP, x=fx(620), y=fy(32), xref="paper", yref="paper",
                xanchor="center", yanchor="middle", showarrow=False, font=title_font))
ann.append(dict(text=PANEL_LABELS[0], x=fx(175), y=fy(218), xref="paper", yref="paper",
                xanchor="left", yanchor="middle", showarrow=False, font=title_font))
ann.append(dict(text=PANEL_LABELS[1], x=fx(175), y=fy(406), xref="paper", yref="paper",
                xanchor="left", yanchor="middle", showarrow=False, font=title_font))
for top, bot in PANELS:
    ann.append(dict(text=Y_TITLE, x=fx(22), y=fy((top + bot) / 2), xref="paper", yref="paper",
                    xanchor="center", yanchor="middle", textangle=-90, showarrow=False,
                    font=dict(family=MONO, size=16, color="black", weight="bold")))
ann.append(dict(text=X_TITLE, x=fx(621), y=fy(600), xref="paper", yref="paper",
                xanchor="center", yanchor="middle", showarrow=False,
                font=dict(family=MONO, size=16, color="black", weight="bold")))
ann.append(dict(text=NOTE, x=fx(310), y=fy(613), xref="paper", yref="paper",
                xanchor="left", yanchor="middle", showarrow=False,
                font=dict(family="Liberation Sans", size=23, color="black")))
for yy in (18, 232):
    ann.append(dict(text="7", x=fx(1110), y=fy(yy), xref="paper", yref="paper",
                    xanchor="left", yanchor="middle", showarrow=False,
                    font=dict(family="Liberation Sans", size=24, color="black")))
layout["annotations"] = ann


def arrow_path(tip, direction, total, head_len, head_half, shaft_half):
    dx, dy = direction
    n = math.hypot(dx, dy)
    ux, uy = dx / n, dy / n          # from tip towards tail
    px_, py_ = -uy, ux               # perpendicular
    tx, ty = tip
    bx, by = tx + ux * head_len, ty + uy * head_len
    ex, ey = tx + ux * total, ty + uy * total
    pts = [
        (tx, ty),
        (bx + px_ * head_half, by + py_ * head_half),
        (bx + px_ * shaft_half, by + py_ * shaft_half),
        (ex + px_ * shaft_half, ey + py_ * shaft_half),
        (ex - px_ * shaft_half, ey - py_ * shaft_half),
        (bx - px_ * shaft_half, by - py_ * shaft_half),
        (bx - px_ * head_half, by - py_ * head_half),
    ]
    return "M " + " L ".join(f"{fx(x):.5f},{fy(y):.5f}" for x, y in pts) + " Z"


layout["shapes"] = [
    dict(type="path", xref="paper", yref="paper", layer="above",
         path=arrow_path((315, 565), (-1, 1), 95, 36, 18, 8.5),
         fillcolor="#00f000", line=dict(width=0)),
    dict(type="path", xref="paper", yref="paper", layer="above",
         path=arrow_path((757, 533), (0.716, 0.698), 131, 37, 16.5, 7),
         fillcolor="#ffe600", line=dict(width=0)),
]

fig.update_layout(**layout)
fig.write_html("out.html")
